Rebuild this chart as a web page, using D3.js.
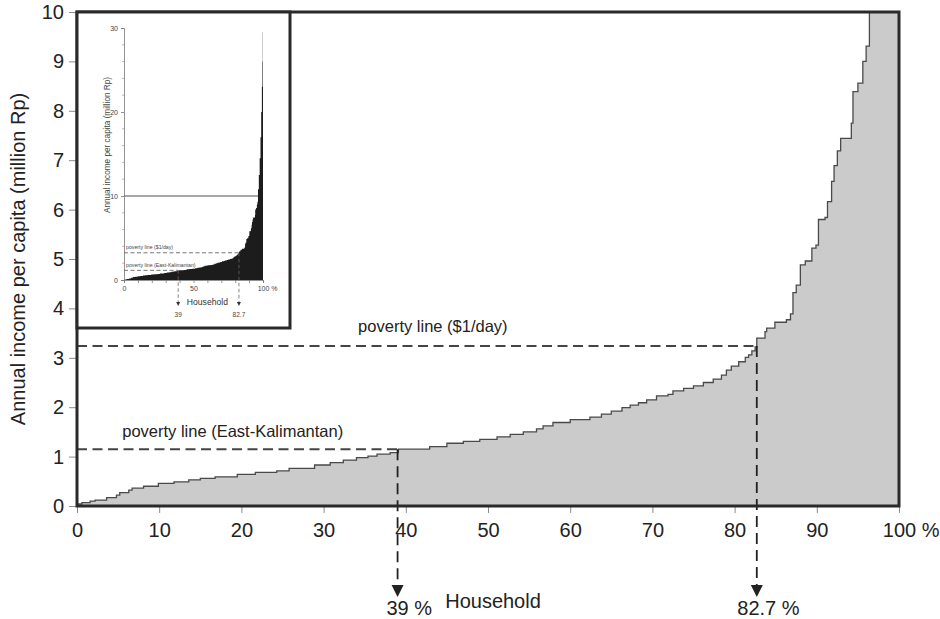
<!DOCTYPE html>
<html><head><meta charset="utf-8">
<script src="https://cdn.jsdelivr.net/npm/d3@7"></script>
<style>
body{margin:0;background:#fff;}
svg{display:block;font-family:"Liberation Sans",Arial,Helvetica,sans-serif;}
</style>
</head><body>
<svg id="c" width="940" height="619"></svg>
<script>
// ---- data (household percentile where each income step starts, income in million Rp)
const householdPct = [0,0.6,1.6,2.2,3.6,4.8,5.2,6.3,6.7,8.1,9.9,11.8,13.6,15.0,16.8,19.5,21.7,24.3,25.8,28.9,
  30.8,32.4,34.0,35.4,36.5,38.1,39.1,42.9,45.0,47.0,49.0,51.1,52.7,54.3,55.9,56.7,57.9,60.0,62.4,63.8,
  65.0,66.3,67.3,68.3,69.3,70.5,71.9,72.5,73.8,75.0,76.2,77.4,78.4,79.0,79.6,80.5,81.3,81.7,82.1,82.5,
  82.7,83.7,83.9,84.9,86.3,86.8,87.1,87.5,88.0,88.6,89.4,89.9,90.2,91.0,91.3,91.8,92.1,92.5,92.9,94.2,
  94.4,95.0,95.6,96.0,96.4,97.0,97.6,98.2,98.7,99.2,99.6,99.85];
const incomeValues = [0.04,0.07,0.10,0.12,0.17,0.22,0.27,0.32,0.36,0.40,0.46,0.49,0.53,0.56,0.59,0.64,0.68,0.71,0.76,0.83,
  0.88,0.93,0.98,1.01,1.05,1.08,1.15,1.20,1.27,1.31,1.35,1.40,1.45,1.50,1.56,1.62,1.69,1.75,1.80,1.86,
  1.92,1.99,2.04,2.09,2.15,2.23,2.26,2.33,2.38,2.43,2.50,2.57,2.65,2.75,2.83,2.92,3.01,3.06,3.14,3.22,
  3.40,3.53,3.60,3.72,3.77,3.89,4.32,4.47,4.88,4.96,5.22,5.28,5.80,5.84,6.16,6.57,6.89,7.19,7.44,7.75,
  8.39,8.56,9.00,9.31,10.8,12.5,14.5,17.0,20.0,23.0,26.0,29.5];
const xTicks = [0,10,20,30,40,50,60,70,80,90,100];
const yTicks = [0,1,2,3,4,5,6,7,8,9,10];
const insetYTicks = [0,10,20,30];
const insetYMinor = [2,4,6,8,12,14,16,18,22,24,26,28];
const insetXTicks = [0,10,20,30,40,50,60,70,80,90,100];
const insetXLabels = [0,50,100];
const povertyValues = [3.24, 1.15];
const povertyPct = [82.7, 39];
const povertyLabels = ["poverty line ($1/day)", "poverty line (East-Kalimantan)"];
const povertyLabelPct = [34.2, 5.5];
const pctLabels = ["82.7", "39"];

const svg = d3.select("#c");
const pts = householdPct.map((p,i)=>({p, v:incomeValues[i]}));
pts.push({p:100, v:incomeValues[incomeValues.length-1]});

function textWidth(str, size){
  const t = svg.append("text").style("font-size", size+"px").text(str);
  const w = t.node().getComputedTextLength(); t.remove(); return w;
}

// ---------- main chart
const x = d3.scaleLinear([0,100],[77,899]);
const y = d3.scaleLinear([0,10],[506,12]);

svg.append("clipPath").attr("id","clipMain").append("rect")
  .attr("x",x(0)).attr("y",y(10)).attr("width",x(100)-x(0)).attr("height",y(0)-y(10));

const area = d3.area().x(d=>x(d.p)).y0(y(0)).y1(d=>y(d.v)).curve(d3.curveStepAfter);
const line = d3.line().x(d=>x(d.p)).y(d=>y(d.v)).curve(d3.curveStepAfter);
const g = svg.append("g").attr("clip-path","url(#clipMain)");
g.append("path").datum(pts).attr("d",area).attr("fill","#cbcbcb");
g.append("path").datum(pts).attr("d",line).attr("fill","none").attr("stroke","#4a4a4a").attr("stroke-width",1.3);

// axes
const yAx = svg.append("g").attr("transform",`translate(${x(0)},0)`)
  .call(d3.axisLeft(y).tickValues(yTicks).tickSize(8).tickPadding(5));
const xAx = svg.append("g").attr("transform",`translate(0,${y(0)})`)
  .call(d3.axisBottom(x).tickValues(xTicks).tickSize(7).tickPadding(10));
[yAx,xAx].forEach(a=>{
  a.select(".domain").remove();
  a.selectAll(".tick line").attr("stroke","#8a8a8a").attr("stroke-width",1);
  a.selectAll(".tick text").attr("fill","#222").style("font-size","20px").style("font-family","inherit");
});
xAx.selectAll(".tick text").filter(d=>d===100).each(function(){
  const w = textWidth("100",20);
  d3.select(this).attr("text-anchor","start").attr("x",-w/2).text("100 %");
});

// poverty lines
povertyValues.forEach((v,i)=>{
  svg.append("line").attr("x1",x(0)).attr("x2",x(povertyPct[i])).attr("y1",y(v)).attr("y2",y(v))
    .attr("stroke","#444").attr("stroke-width",2).attr("stroke-dasharray","10,5.5");
  svg.append("line").attr("x1",x(povertyPct[i])).attr("x2",x(povertyPct[i])).attr("y1",y(v)).attr("y2",585)
    .attr("stroke","#222").attr("stroke-width",1.8).attr("stroke-dasharray","11,6");
  const ax = x(povertyPct[i]);
  svg.append("path").attr("d",`M${ax-6},585L${ax+6},585L${ax},597Z`).attr("fill","#222");
  const w = textWidth(pctLabels[i],20);
  svg.append("text").attr("x",ax-w/2).attr("y",615).style("font-size","20px").attr("fill","#222")
    .text(pctLabels[i]+" %");
  svg.append("text").attr("x",x(povertyLabelPct[i])).attr("y",y(v)-(i===0?14:12))
    .style("font-size","16.5px").attr("fill","#222").text(povertyLabels[i]);
});

// frame
svg.append("rect").attr("x",x(0)).attr("y",y(10)).attr("width",x(100)-x(0)).attr("height",y(0)-y(10))
  .attr("fill","none").attr("stroke","#2a2a2a").attr("stroke-width",3);

// axis titles
svg.append("text").attr("x",493).attr("y",608).attr("text-anchor","middle")
  .style("font-size","20px").attr("fill","#222").text("Household");
svg.append("text").attr("transform",`translate(25,${(y(0)+y(10))/2}) rotate(-90)`).attr("text-anchor","middle")
  .style("font-size","20px").attr("fill","#222").text("Annual income per capita (million Rp)");

// ---------- inset
svg.append("rect").attr("x",77).attr("y",12).attr("width",213).attr("height",316)
  .attr("fill","#fff").attr("stroke","#2a2a2a").attr("stroke-width",3);

const ix = d3.scaleLinear([0,100],[124,263]);
const iy = d3.scaleLinear([0,30],[280,28]);

svg.append("line").attr("x1",ix(0)).attr("x2",ix(100)).attr("y1",iy(10)).attr("y2",iy(10))
  .attr("stroke","#222").attr("stroke-width",0.8);

const iArea = d3.area().x(d=>ix(d.p)).y0(iy(0)).y1(d=>iy(d.v)).curve(d3.curveStepAfter);
svg.append("path").datum(pts).attr("d",iArea).attr("fill","#1c1c1c");

const iyAx = svg.append("g").attr("transform",`translate(${ix(0)},0)`)
  .call(d3.axisLeft(iy).tickValues(insetYTicks).tickSize(3).tickPadding(3));
const ixAx = svg.append("g").attr("transform",`translate(0,${iy(0)})`)
  .call(d3.axisBottom(ix).tickValues(insetXTicks).tickSize(3).tickPadding(3)
    .tickFormat(d=>insetXLabels.includes(d)?d:""));
[iyAx,ixAx].forEach(a=>{
  a.select(".domain").attr("stroke","#777").attr("stroke-width",0.8);
  a.selectAll(".tick line").attr("stroke","#777").attr("stroke-width",0.8);
  a.selectAll(".tick text").attr("fill","#444").style("font-size","7px").style("font-family","inherit");
});
iyAx.selectAll(".minor").data(insetYMinor).enter().append("line")
  .attr("x1",-2).attr("x2",0).attr("y1",d=>iy(d)).attr("y2",d=>iy(d)).attr("stroke","#888").attr("stroke-width",0.6);
ixAx.selectAll(".tick text").filter(d=>d===100).each(function(){
  const w = textWidth("100",7);
  d3.select(this).attr("text-anchor","start").attr("x",-w/2).text("100 %");
});

povertyValues.forEach((v,i)=>{
  svg.append("line").attr("x1",ix(0)).attr("x2",ix(povertyPct[i])).attr("y1",iy(v)).attr("y2",iy(v))
    .attr("stroke","#666").attr("stroke-width",0.9).attr("stroke-dasharray","4,2.5");
  const ax = ix(povertyPct[i]);
  svg.append("line").attr("x1",ax).attr("x2",ax).attr("y1",iy(v)).attr("y2",302)
    .attr("stroke","#666").attr("stroke-width",0.8).attr("stroke-dasharray","3.5,2.5");
  svg.append("path").attr("d",`M${ax-2},302L${ax+2},302L${ax},306Z`).attr("fill","#333");
  svg.append("text").attr("x",ax).attr("y",317).attr("text-anchor","middle")
    .style("font-size","6.5px").attr("fill","#444").text(pctLabels[i]);
  svg.append("text").attr("x",ix(1.5)).attr("y",iy(v)-(i===0?3.5:3.5))
    .style("font-size","5.2px").attr("fill","#444").text(povertyLabels[i]);
});

svg.append("text").attr("x",ix(60)).attr("y",305).attr("text-anchor","middle")
  .style("font-size","8.6px").attr("fill","#333").text("Household");
svg.append("text").attr("transform",`translate(110,145) rotate(-90)`).attr("text-anchor","middle")
  .style("font-size","8.2px").attr("fill","#444").text("Annual income per capita (million Rp)");
</script>
</body></html>
